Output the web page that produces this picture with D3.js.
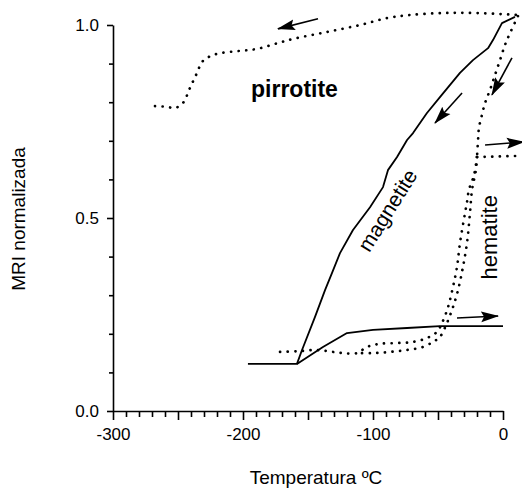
<!DOCTYPE html>
<html>
<head>
<meta charset="utf-8">
<script src="https://cdn.jsdelivr.net/npm/d3@7"></script>
<style>
body{margin:0;background:#fff;}
svg{display:block;font-family:"Liberation Sans",Arial,sans-serif;}
</style>
</head>
<body>
<svg id="chart" width="522" height="490"></svg>
<script>
// curves: [temperature ºC, normalised MRI]
var pirrotite = [[-267.7,0.790],[-258.5,0.788],[-252.3,0.785],[-246.2,0.798],[-240.8,0.837],[-236.2,0.870],
	[-230.8,0.907],[-224.6,0.920],[-217.7,0.927],[-202.3,0.933],[-189.2,0.938],[-175.4,0.951],[-161.5,0.964],
	[-135.4,0.982],[-110,1.0],[-89.2,1.018],[-71.5,1.026],[-46.2,1.031],[-20,1.031],[10.8,1.026]];
var hematiteTop = [[11.5,1.023],[5.4,0.979],[1.5,0.948],[-2.3,0.909],[-6.2,0.870],[-10,0.832],[-13.8,0.798],
	[-16.2,0.767],[-18.5,0.733],[-19.2,0.702],[-20,0.658]];
var hematiteLeft = [[-20,0.658],[-22.3,0.611],[-26.2,0.573],[-27.7,0.541],[-29.2,0.513],[-33.1,0.435],[-35.4,0.373],
	[-38.5,0.321],[-42.3,0.269],[-46.9,0.228],[-50.8,0.205],[-58.5,0.189],[-69.2,0.179],[-81.5,0.176],[-94.6,0.174],
	[-104.6,0.166],[-112.3,0.150],[-123.1,0.150],[-130.8,0.153],[-143.1,0.158],[-157.7,0.155],[-172,0.153]];
var hematiteRight = [[-20,0.658],[-20.8,0.624],[-23.8,0.573],[-25.4,0.513],[-27.7,0.435],[-30.8,0.373],[-34.6,0.313],
	[-38.5,0.269],[-43.1,0.228],[-48.5,0.192],[-53.8,0.179],[-61.5,0.166],[-73.8,0.158],[-86.9,0.153],[-100,0.150],[-112.3,0.150]];
var hematiteBranch = [[-20,0.658],[13.1,0.661]];
var magnetite = [[-196.2,0.122],[-158.5,0.122],[-154.6,0.158],[-144.6,0.244],[-136.9,0.313],[-131.5,0.358],
	[-125.4,0.409],[-115.4,0.469],[-102.3,0.528],[-92.3,0.580],[-88.5,0.624],[-81.5,0.658],[-73.8,0.702],[-69.2,0.720],
	[-58.5,0.772],[-48.5,0.813],[-33.1,0.876],[-23.1,0.909],[-11.5,0.940],[-7.7,0.961],[-0.8,1.005],[9.2,1.021]];
var magnetiteLow = [[-158.5,0.122],[-138.5,0.166],[-120,0.202],[-100,0.210],[-73.8,0.215],[-48.5,0.220],[-20,0.220],[0,0.220]];
var arrows = [
	[[-142.3,1.016],[-173.1,0.990]],
	[[-31.5,0.824],[-52.3,0.746]],
	[[6.9,0.915],[-8.5,0.819]],
	[[-13.8,0.689],[16,0.697]],
	[[-35.4,0.241],[-3.8,0.246]]
];
var xTicks = d3.range(-300, 1, 10);
var yTicks = d3.range(0, 11).map(function(i){ return i / 10; });
var curveNames = ["pirrotite", "magnetite", "hematite"];
var xTitle = "Temperatura ºC";
var yTitle = "MRI normalizada";

var svg = d3.select("#chart");

var xScale = d3.scaleLinear().domain([-300, 0]).range([113, 503]);
var yScale = d3.scaleLinear().domain([0, 1]).range([411, 25]);

svg.append("defs").append("marker")
	.attr("id", "head")
	.attr("markerUnits", "userSpaceOnUse")
	.attr("markerWidth", 18).attr("markerHeight", 12)
	.attr("refX", 17).attr("refY", 6)
	.attr("orient", "auto")
	.append("path")
	.attr("d", "M0,0.5 L18,6 L0,11.5 L3,6 z")
	.attr("fill", "#000");

// axes
var xAxis = svg.append("g")
	.attr("transform", "translate(0," + yScale(0) + ")")
	.call(d3.axisBottom(xScale).tickValues(xTicks).tickSize(6).tickSizeOuter(0)
		.tickFormat(function(d){ return d % 100 === 0 ? d : ""; }));
xAxis.selectAll(".tick line").attr("y2", function(d){ return d % 50 === 0 ? 9 : 6; });
xAxis.selectAll(".tick text").attr("y", 17).style("font-size", "17px");

var yAxis = svg.append("g")
	.attr("transform", "translate(" + xScale(-300) + ",0)")
	.call(d3.axisLeft(yScale).tickValues(yTicks).tickSize(4).tickSizeOuter(0)
		.tickFormat(function(d, i){ return i % 5 === 0 ? d3.format(".1f")(d) : ""; }));
yAxis.selectAll(".tick line").attr("x2", function(d, i){ return i % 5 === 0 ? -6 : -4; });
yAxis.selectAll(".tick text").attr("x", -14).style("font-size", "17px");

svg.selectAll(".domain, .tick line").attr("stroke", "#000").attr("stroke-width", 1.6);
svg.selectAll(".tick text").attr("fill", "#000").style("font-family", "'Liberation Sans',Arial,sans-serif");

// curves
var smooth = d3.line()
	.x(function(d){ return xScale(d[0]); })
	.y(function(d){ return yScale(d[1]); })
	.curve(d3.curveCatmullRom.alpha(0.5));
var straight = d3.line()
	.x(function(d){ return xScale(d[0]); })
	.y(function(d){ return yScale(d[1]); });

[pirrotite, hematiteTop, hematiteLeft, hematiteRight, hematiteBranch].forEach(function(c){
	svg.append("path")
		.attr("d", smooth(c))
		.attr("fill", "none")
		.attr("stroke", "#000")
		.attr("stroke-width", 2.7)
		.attr("stroke-linecap", "round")
		.attr("stroke-dasharray", "0.1,7.5");
});

[magnetite, magnetiteLow].forEach(function(c){
	svg.append("path")
		.attr("d", straight(c))
		.attr("fill", "none")
		.attr("stroke", "#000")
		.attr("stroke-width", 1.8)
		.attr("stroke-linejoin", "round");
});

arrows.forEach(function(a){
	svg.append("line")
		.attr("x1", xScale(a[0][0])).attr("y1", yScale(a[0][1]))
		.attr("x2", xScale(a[1][0])).attr("y2", yScale(a[1][1]))
		.attr("stroke", "#000")
		.attr("stroke-width", 1.6)
		.attr("marker-end", "url(#head)");
});

// labels
svg.append("text")
	.attr("x", 251).attr("y", 97)
	.style("font-size", "23px").style("font-weight", "bold")
	.text(curveNames[0]);
svg.append("text")
	.attr("transform", "translate(" + xScale(-84) + "," + yScale(0.51) + ") rotate(-58)")
	.attr("text-anchor", "middle")
	.style("font-size", "21px")
	.text(curveNames[1]);
svg.append("text")
	.attr("transform", "translate(" + xScale(-5) + "," + yScale(0.45) + ") rotate(-90)")
	.attr("text-anchor", "middle")
	.style("font-size", "22px")
	.text(curveNames[2]);

svg.append("text")
	.attr("x", 316).attr("y", 484)
	.attr("text-anchor", "middle")
	.style("font-size", "19px")
	.text(xTitle);
svg.append("text")
	.attr("transform", "translate(25,219) rotate(-90)")
	.attr("text-anchor", "middle")
	.style("font-size", "19px")
	.text(yTitle);
</script>
</body>
</html>
